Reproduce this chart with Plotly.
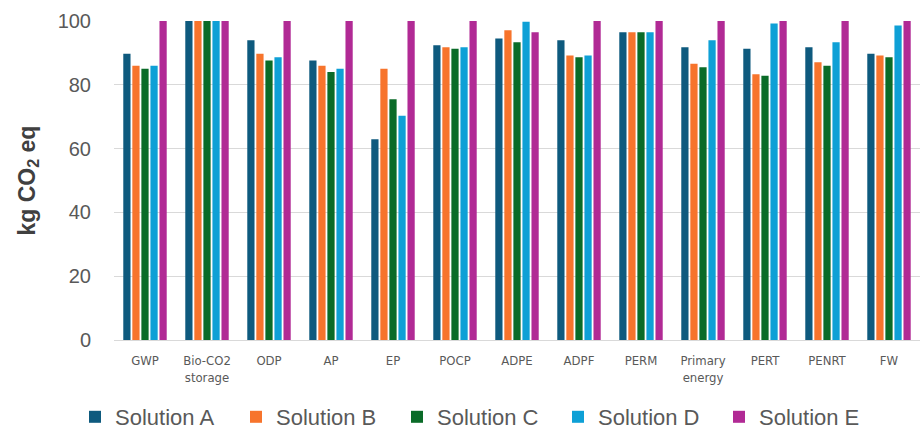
import plotly.graph_objects as go

# Impact categories on the x axis
categories = ["GWP", "Bio-CO2<br>storage", "ODP", "AP", "EP", "POCP", "ADPE",
              "ADPF", "PERM", "Primary<br>energy", "PERT", "PENRT", "FW"]

# Values per solution (kg CO2 eq, relative scale)
solution_a = [89.7, 100, 94.0, 87.6, 62.9, 92.4, 94.5, 94.0, 96.5, 91.8, 91.3, 91.8, 89.7]
solution_b = [86.0, 100, 89.7, 86.0, 85.0, 91.8, 97.1, 89.2, 96.5, 86.6, 83.3, 87.1, 89.2]
solution_c = [85.0, 100, 87.6, 84.0, 75.5, 91.3, 93.3, 88.6, 96.5, 85.5, 82.8, 86.0, 88.6]
solution_d = [86.0, 100, 88.6, 85.0, 70.3, 91.8, 99.8, 89.2, 96.5, 94.0, 99.2, 93.3, 98.6]
solution_e = [100, 100, 100, 100, 100, 100, 96.5, 100, 100, 100, 100, 100, 100]

series_names = ["Solution A", "Solution B", "Solution C", "Solution D", "Solution E"]
series_values = [solution_a, solution_b, solution_c, solution_d, solution_e]
series_colors = ["#0e5a7e", "#f7742c", "#0a6b28", "#0ea0d6", "#b12a95"]

y_ticks = [0, 20, 40, 60, 80, 100]

fig = go.Figure()
for name, vals, color in zip(series_names, series_values, series_colors):
    fig.add_trace(go.Bar(
        name=name,
        x=categories,
        y=vals,
        marker=dict(color=color, line=dict(width=0)),
    ))

W, H = 921, 439
m_l, m_r, m_t, m_b = 114, 1, 21, 99
plot_w = W - m_l - m_r
plot_h = H - m_t - m_b
legend_top = 396           # pixel row of the legend box top

fig.update_layout(
    width=W, height=H,
    margin=dict(l=m_l, r=m_r, t=m_t, b=m_b, pad=0),
    paper_bgcolor="white",
    plot_bgcolor="white",
    barmode="group",
    bargap=0.27,
    bargroupgap=0.2,
    font=dict(family="Liberation Sans, Arial, sans-serif", color="#595959"),
    xaxis=dict(
        type="category",
        showgrid=False,
        showline=True,
        linecolor="#d9d9d9",
        linewidth=1,
        ticks="",
        tickangle=0,
        ticklabelstandoff=8,
        tickfont=dict(family="DejaVu Sans Condensed, Liberation Sans, sans-serif",
                      size=13, color="#595959"),
        zeroline=False,
    ),
    yaxis=dict(
        range=[0, 100],
        tickvals=y_ticks,
        showgrid=True,
        gridcolor="#d9d9d9",
        gridwidth=1,
        zeroline=False,
        showline=False,
        ticks="",
        ticklabelstandoff=22,
        tickfont=dict(size=20, color="#595959"),
    ),
    showlegend=True,
    legend=dict(
        orientation="h",
        x=(75 - m_l) / plot_w,
        xanchor="left",
        y=-(legend_top - (H - m_b)) / plot_h,
        yanchor="top",
        entrywidth=116,
        entrywidthmode="pixels",
        font=dict(size=22, color="#595959"),
        traceorder="normal",
        itemclick=False,
        bgcolor="rgba(0,0,0,0)",
    ),
    annotations=[dict(
        text="<b>kg CO<sub>2</sub> eq</b>",
        xref="paper", yref="paper",
        x=(28 - m_l) / plot_w, y=0.5,
        xanchor="center", yanchor="middle",
        textangle=-90,
        showarrow=False,
        font=dict(size=23, color="#404040"),
    )],
)

fig.write_html("out.html")
